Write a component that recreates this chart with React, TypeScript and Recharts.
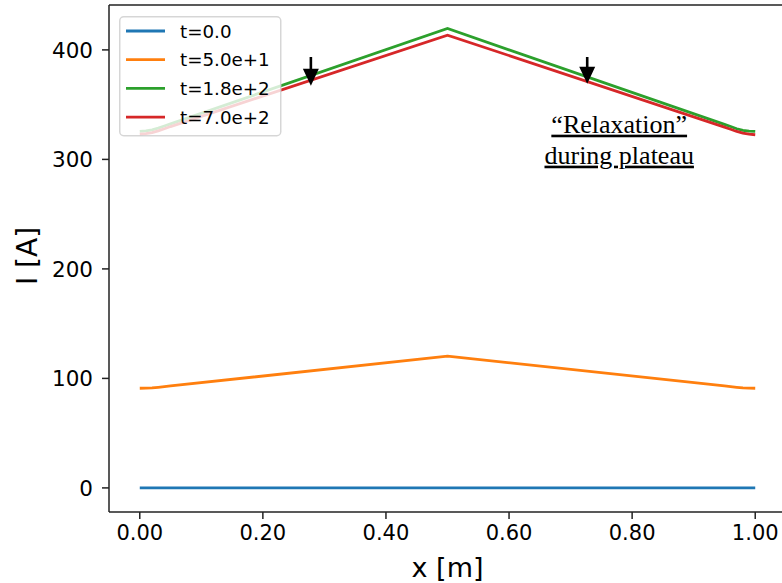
import React from 'react';
import {
  ComposedChart, Line, XAxis, YAxis, ReferenceLine, ReferenceDot, Legend, Label,
} from 'recharts';

// ---------------- data ----------------
const seriesNames = ['t=0.0', 't=5.0e+1', 't=1.8e+2', 't=7.0e+2'];
const seriesColors = ['#1f77b4', '#ff7f0e', '#2ca02c', '#d62728'];

const xBlue = [0, 0.5, 1];
const yBlue = [0, 0, 0];

const xKnots = [0, 0.01, 0.02, 0.03, 0.04, 0.05, 0.5, 0.95, 0.96, 0.97, 0.98, 0.99, 1.0];
const yOrange = [91, 91.1, 91.4, 91.9, 92.5, 93.1, 120.3, 93.1, 92.5, 91.9, 91.4, 91.1, 91];
const yGreen = [325.5, 326, 327, 328.5, 330.5, 332.5, 419.5, 332, 330, 328, 326.5, 325.8, 325.5];
const yRed = [323, 323.5, 324.5, 326, 328, 330, 413.5, 329.5, 327.5, 325.5, 324, 323, 322.5];

const xTicks = [0, 0.2, 0.4, 0.6, 0.8, 1.0];
const yTicks = [0, 100, 200, 300, 400];
const xDomain = [-0.05, 1.05];
const yDomain = [-22, 441];

// annotations
const arrowX = [0.278, 0.727];
const arrowTop = [393.5, 393.5];
const arrowTip = [367.2, 369.0];
const noteLines = ['\u201CRelaxation\u201D', 'during plateau'];
const noteX = 0.779;
const noteY = [324.4, 296.1];

const toPts = (xs: number[], ys: number[]) => xs.map((x, i) => ({ x, y: ys[i] }));
const seriesData = [
  toPts(xBlue, yBlue),
  toPts(xKnots, yOrange),
  toPts(xKnots, yGreen),
  toPts(xKnots, yRed),
];

const FONT = '"DejaVu Sans", sans-serif';
const AXIS = '#222222';

const LegendBox = () => (
  <svg width={164} height={122} style={{ display: 'block' }}>
    <rect x={0.75} y={0.75} width={161} height={119} rx={4} fill="white" fillOpacity={0.8}
      stroke="#cccccc" strokeOpacity={0.8} strokeWidth={1.5} />
    {seriesNames.map((n, i) => {
      const cy = 15 + i * 28.7;
      return (
        <g key={n}>
          <line x1={7} x2={46} y1={cy} y2={cy} stroke={seriesColors[i]} strokeWidth={2.8} />
          <text x={61} y={cy} dominantBaseline="central" fontSize={18.3} fontFamily={FONT} fill="#000">{n}</text>
        </g>
      );
    })}
  </svg>
);

const ArrowHead = (props: any) => {
  const { cx, cy } = props;
  if (cx == null || cy == null) return null;
  return <polygon points={`${cx - 8},${cy - 17} ${cx + 8},${cy - 17} ${cx},${cy}`} fill="#000" />;
};

const makeNote = (txt: string) => (props: any) => {
  const { cx, cy } = props;
  if (cx == null || cy == null) return null;
  return (
    <text x={cx} y={cy} textAnchor="middle" fontSize={26} fill="#000"
      fontFamily='"Liberation Serif", "Times New Roman", serif'
      style={{ textDecoration: 'underline' }}>{txt}</text>
  );
};

export default function App() {
  return (
    <div style={{ position: 'absolute', left: 0, top: 0, width: 782, height: 583, overflow: 'hidden', background: '#fff' }}>
      <ComposedChart width={786} height={583} margin={{ top: 5, right: 0, bottom: 0, left: 0 }}>
        <XAxis
          type="number" dataKey="x" domain={xDomain} ticks={xTicks} allowDataOverflow
          tickFormatter={(v: number) => v.toFixed(2)} height={71}
          tick={{ fill: '#000', fontSize: 21, fontFamily: FONT }}
          tickSize={7} tickMargin={6}
          axisLine={{ stroke: AXIS, strokeWidth: 1.5 }} tickLine={{ stroke: AXIS, strokeWidth: 1.5 }}
        >
          <Label content={() => (
            <text x={447.5} y={577} textAnchor="middle" fontSize={27} fontFamily={FONT} fill="#000">x [m]</text>
          )} />
        </XAxis>
        <YAxis
          type="number" domain={yDomain} ticks={yTicks} allowDataOverflow width={109}
          tick={{ fill: '#000', fontSize: 21.5, fontFamily: FONT }}
          tickSize={7} tickMargin={9}
          axisLine={{ stroke: AXIS, strokeWidth: 1.5 }} tickLine={{ stroke: AXIS, strokeWidth: 1.5 }}
        >
          <Label content={() => (
            <text x={27} y={256} transform="rotate(-90 27 256)" textAnchor="middle" dominantBaseline="central"
              fontSize={28} fontFamily={FONT} fill="#000">I [A]</text>
          )} />
        </YAxis>
        <ReferenceLine y={yDomain[1]} stroke={AXIS} strokeWidth={1.5} />
        {seriesData.map((d, i) => (
          <Line key={seriesNames[i]} data={d} dataKey="y" name={seriesNames[i]} type="linear"
            stroke={seriesColors[i]} strokeWidth={2.8} dot={false} activeDot={false}
            isAnimationActive={false} />
        ))}
        {arrowX.map((ax, i) => (
          <ReferenceLine key={`s${i}`} segment={[{ x: ax, y: arrowTop[i] }, { x: ax, y: arrowTip[i] + 12 }]}
            stroke="#000" strokeWidth={2.6} />
        ))}
        {arrowX.map((ax, i) => (
          <ReferenceDot key={`h${i}`} x={ax} y={arrowTip[i]} r={1} shape={ArrowHead} />
        ))}
        {noteLines.map((t, i) => (
          <ReferenceDot key={`n${i}`} x={noteX} y={noteY[i]} r={1} shape={makeNote(t)} />
        ))}
        <Legend layout="vertical" align="center" verticalAlign="middle"
          wrapperStyle={{ top: 16, left: 119, width: 164, height: 122 }}
          content={() => <LegendBox />} />
      </ComposedChart>
    </div>
  );
}
